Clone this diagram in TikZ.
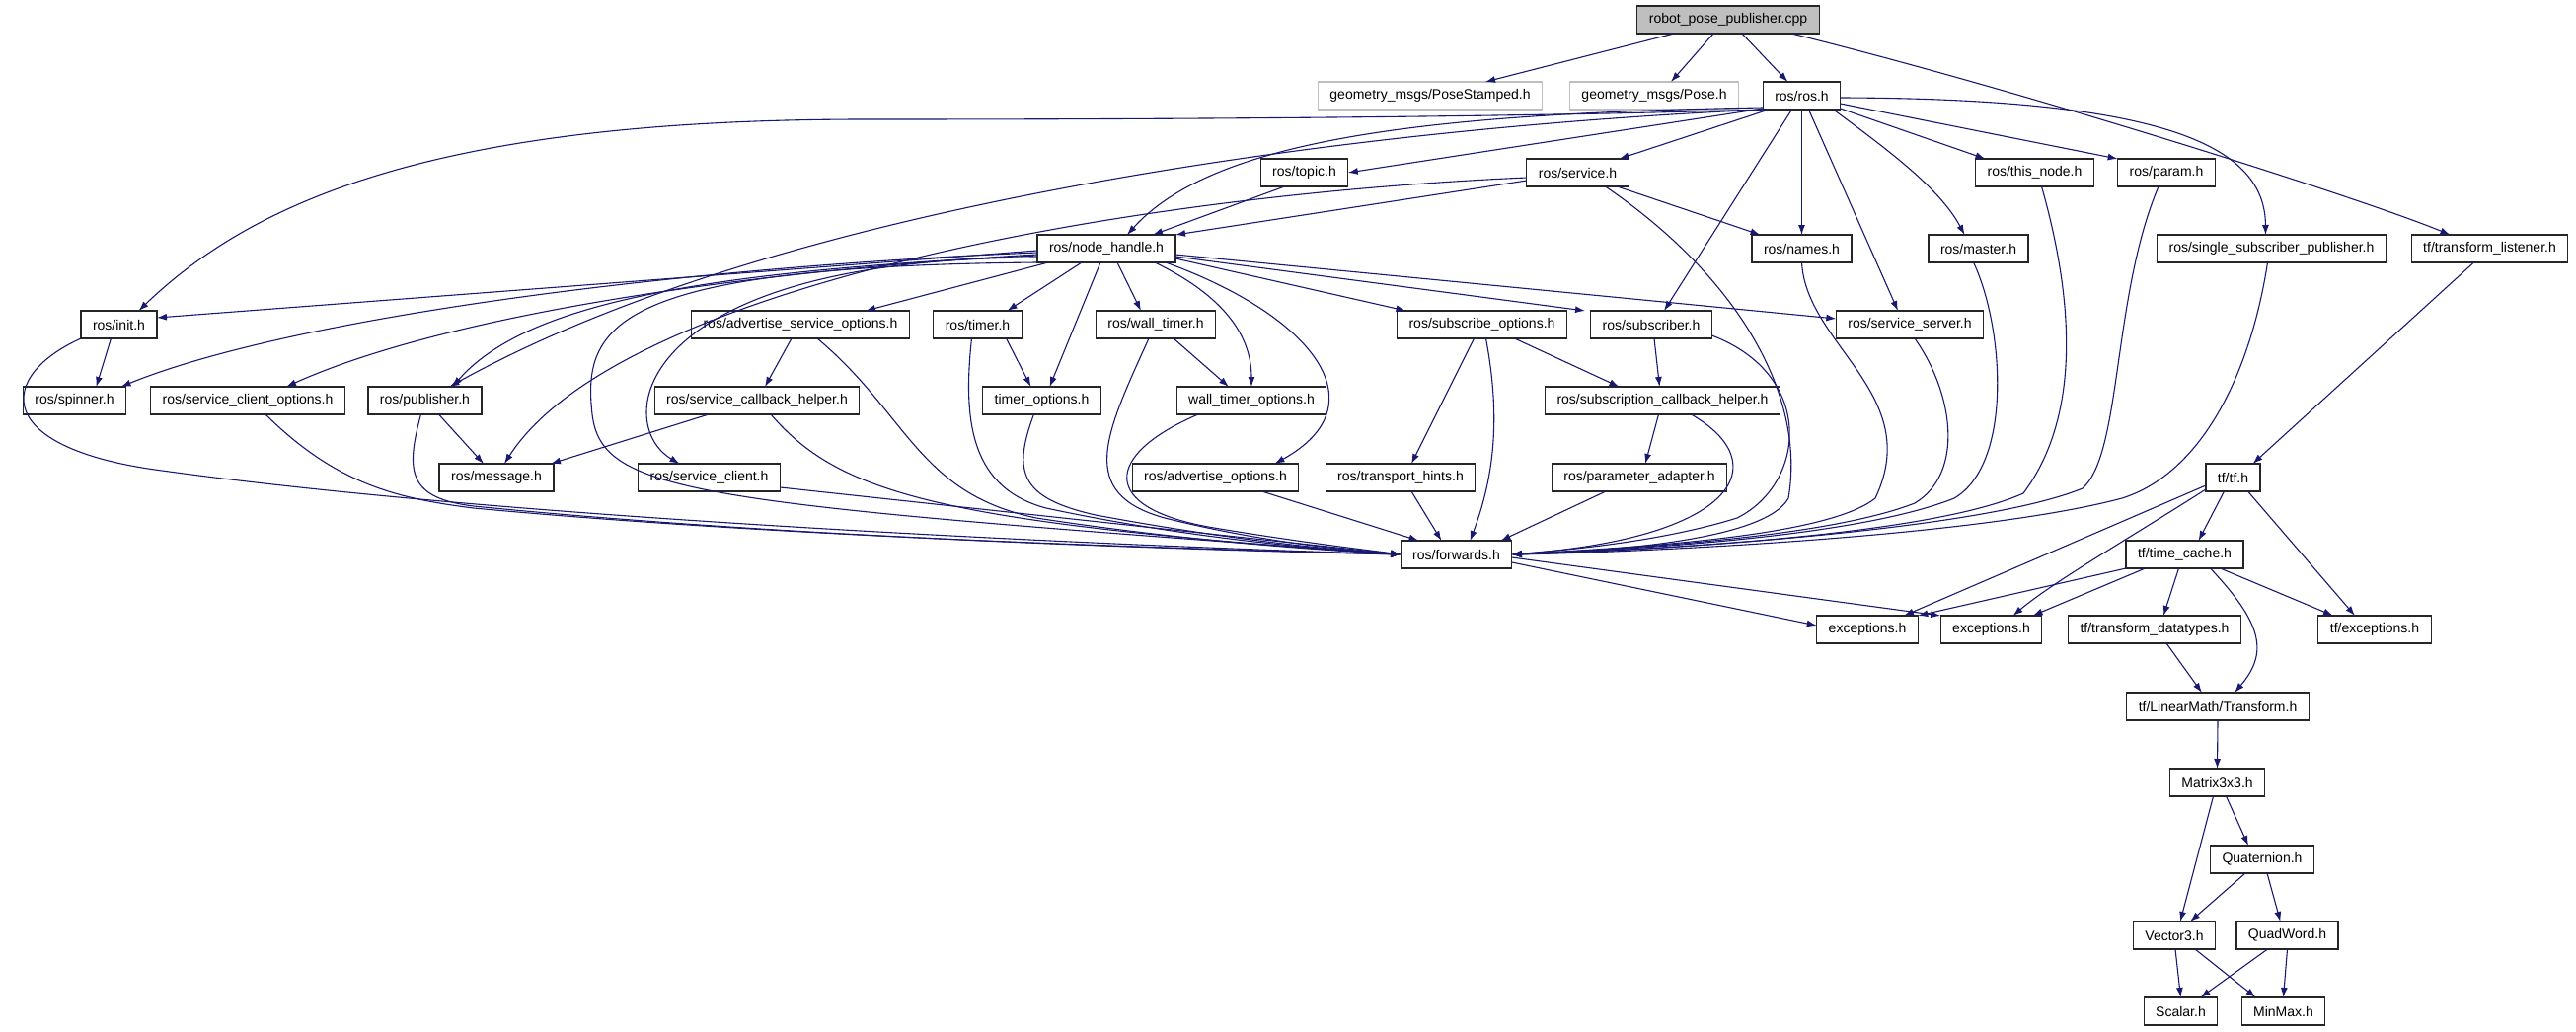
\documentclass[tikz,border=0pt]{standalone}
\usepackage{fontspec}
\setmainfont{Liberation Sans}
\usepackage{tikz}
\usetikzlibrary{arrows.meta}
\definecolor{edgeblue}{HTML}{191970}
\definecolor{rootgray}{HTML}{BFBFBF}

\begin{document}
\begin{tikzpicture}[x=1pt,y=-1pt,
    edge/.style={draw=edgeblue,line width=1.1pt,-{Latex[length=10pt,width=7pt]}},
    file/.style={draw=black!85,line width=1.2pt,rectangle,minimum height=28pt,inner sep=0pt,inner xsep=12pt,outer sep=0pt,font=\fontsize{14}{16}\selectfont},
    root/.style={file,fill=rootgray},
    missing/.style={file,draw=rootgray}]
    \useasboundingbox (0,0) rectangle (2610,1045);
    \node [root] (rpp) at (1751,20) {robot\_pose\_publisher.cpp};
    \node [missing] (posest) at (1449,97) {geometry\_msgs/PoseStamped.h};
    \node [missing] (pose) at (1676,97) {geometry\_msgs/Pose.h};
    \node [file] (ros) at (1825.5,97) {ros/ros.h};
    \node [file] (topic) at (1321.5,175) {ros/topic.h};
    \node [file] (service) at (1598.5,175) {ros/service.h};
    \node [file] (thisnode) at (2061.5,175) {ros/this\_node.h};
    \node [file] (param) at (2195,175) {ros/param.h};
    \node [file] (nh) at (1121,252) {ros/node\_handle.h};
    \node [file] (names) at (1825.5,252) {ros/names.h};
    \node [file] (master) at (2004.5,252) {ros/master.h};
    \node [file] (ssp) at (2301.5,252) {ros/single\_subscriber\_publisher.h};
    \node [file] (listener) at (2522.5,252) {tf/transform\_listener.h};
    \node [file] (init) at (120.5,329) {ros/init.h};
    \node [file] (advsrvopt) at (811,329) {ros/advertise\_service\_options.h};
    \node [file] (timer) at (990.5,329) {ros/timer.h};
    \node [file] (walltimer) at (1171,329) {ros/wall\_timer.h};
    \node [file] (subopt) at (1501.5,329) {ros/subscribe\_options.h};
    \node [file] (subscriber) at (1673,329) {ros/subscriber.h};
    \node [file] (srvsrv) at (1935,329) {ros/service\_server.h};
    \node [file] (spinner) at (75.5,406) {ros/spinner.h};
    \node [file] (srvcliopt) at (251,406) {ros/service\_client\_options.h};
    \node [file] (pub) at (430.5,406) {ros/publisher.h};
    \node [file] (srvcb) at (767,406) {ros/service\_callback\_helper.h};
    \node [file] (timeropt) at (1055.5,406) {timer\_options.h};
    \node [file] (walltimeropt) at (1268,406) {wall\_timer\_options.h};
    \node [file] (subcb) at (1684.5,406) {ros/subscription\_callback\_helper.h};
    \node [file] (message) at (503,484) {ros/message.h};
    \node [file] (srvclient) at (718.5,484) {ros/service\_client.h};
    \node [file] (advopt) at (1231.5,484) {ros/advertise\_options.h};
    \node [file] (hints) at (1419,484) {ros/transport\_hints.h};
    \node [file] (padapter) at (1661,484) {ros/parameter\_adapter.h};
    \node [file] (tf) at (2262.5,484) {tf/tf.h};
    \node [file] (forwards) at (1475.5,562) {ros/forwards.h};
    \node [file] (tcache) at (2213.5,562) {tf/time\_cache.h};
    \node [file] (excA) at (1892,638) {exceptions.h};
    \node [file] (excB) at (2017.5,638) {exceptions.h};
    \node [file] (dtypes) at (2183,638) {tf/transform\_datatypes.h};
    \node [file] (tfexc) at (2406,638) {tf/exceptions.h};
    \node [file] (transform) at (2247,716) {tf/LinearMath/Transform.h};
    \node [file] (matrix) at (2246.5,793) {Matrix3x3.h};
    \node [file] (quat) at (2292,871) {Quaternion.h};
    \node [file] (vector) at (2203,948) {Vector3.h};
    \node [file] (quadword) at (2317.5,948) {QuadWord.h};
    \node [file] (scalar) at (2209.5,1025) {Scalar.h};
    \node [file] (minmax) at (2313.5,1025) {MinMax.h};

    \draw[edge] ([xshift=-55pt]rpp.south) -- ([xshift=56pt]posest.north);
    \draw[edge] ([xshift=-15pt]rpp.south) -- ([xshift=17pt]pose.north);
    \draw[edge] ([xshift=14pt]rpp.south) -- ([xshift=-14pt]ros.north);
    \draw[edge] ([xshift=64pt]rpp.south) .. controls (2050,92) and (2390,200) .. ([xshift=-40pt]listener.north);

    \draw[edge] (ros.south west) .. controls (1500,120) and (1100,121) .. (870,121) .. controls (450,122) and (260,200) .. ([xshift=20pt]init.north);
    \draw[edge] ([yshift=2pt]ros.south west) .. controls (1450,115) and (1230,140) .. ([xshift=21pt]nh.north);
    \draw[edge] ([yshift=1pt]ros.south west) -- (topic.east);
    \draw[edge] ([xshift=6pt]ros.south west) -- ([xshift=42pt]service.north);
    \draw[edge] ([xshift=2pt]ros.south west) .. controls (1400,128) and (800,200) .. ([xshift=25pt]pub.north);
    \draw[edge] ([xshift=-10pt]ros.south) -- ([xshift=13pt]subscriber.north);
    \draw[edge] (ros.south) -- (names.north);
    \draw[edge] ([xshift=7pt]ros.south) -- ([xshift=-12pt]srvsrv.north);
    \draw[edge] ([xshift=32pt]ros.south) .. controls (1910,150) and (1965,190) .. ([xshift=-14pt]master.north);
    \draw[edge] ([yshift=1pt]ros.south east) -- ([xshift=-50pt]thisnode.north);
    \draw[edge] ([yshift=-8pt]ros.east) -- (param.north west);
    \draw[edge] ([yshift=-2pt]ros.east) .. controls (2200,100) and (2295,150) .. ([xshift=-6pt]ssp.north);

    \draw[edge] ([xshift=-20pt]topic.south) -- ([xshift=47pt]nh.north);
    \draw[edge] ([yshift=-8pt]service.west) -- (nh.north east);
    \draw[edge] ([yshift=-5pt]service.west) .. controls (1100,200) and (620,300) .. ([xshift=8pt]message.north);
    \draw[edge] ([xshift=40pt]service.south) -- ([xshift=-42pt]names.north);
    \draw[edge] ([xshift=28pt]service.south) .. controls (1760,280) and (1830,400) .. (1812,505) .. controls (1790,545) and (1650,558) .. (forwards.east);

    \draw[edge] ([yshift=-2pt]nh.west) -- ([yshift=7pt]init.east);
    \draw[edge] ([yshift=-4pt]nh.west) .. controls (700,270) and (300,320) .. ([xshift=47pt]spinner.north);
    \draw[edge] ([yshift=-6pt]nh.west) .. controls (750,275) and (450,320) .. ([xshift=39pt]srvcliopt.north);
    \draw[edge] ([yshift=-7pt]nh.west) .. controls (700,275) and (530,310) .. ([xshift=28pt]pub.north);
    \draw[edge] ([yshift=-9pt]nh.west) .. controls (640,262) and (620,430) .. ([xshift=-30pt]srvclient.north);
    \draw[edge] (nh.south west) .. controls (620,270) and (590,330) .. (600,420) .. controls (610,500) and (700,510) .. (forwards.west);
    \draw[edge] ([xshift=-59pt]nh.south) -- ([xshift=66pt]advsrvopt.north);
    \draw[edge] ([xshift=-25pt]nh.south) -- ([xshift=30pt]timer.north);
    \draw[edge] ([xshift=-6pt]nh.south) -- ([xshift=8pt]timeropt.north);
    \draw[edge] ([xshift=11pt]nh.south) -- ([xshift=-15pt]walltimer.north);
    \draw[edge] ([xshift=49pt]nh.south) .. controls (1240,300) and (1268,340) .. (walltimeropt.north);
    \draw[edge] ([xshift=60pt]nh.south) .. controls (1330,320) and (1400,410) .. ([xshift=60pt]advopt.north);
    \draw[edge] ([yshift=-10pt]nh.east) -- ([xshift=-77pt]subopt.north);
    \draw[edge] ([yshift=-8pt]nh.east) -- ([xshift=-67pt]subscriber.north);
    \draw[edge] ([yshift=-6pt]nh.east) -- ([yshift=6pt]srvsrv.west);

    \draw[edge] ([xshift=29pt]subcb.south) .. controls (1800,470) and (1760,545) .. (forwards.east);
    \draw[edge] ([yshift=3pt]subscriber.south east) .. controls (1840,380) and (1830,490) .. (1760,525) .. controls (1680,550) and (1580,558) .. (forwards.east);
    \draw[edge] (names.south) .. controls (1830,350) and (1950,400) .. (1900,505) .. controls (1850,545) and (1650,555) .. (forwards.east);
    \draw[edge] ([xshift=5pt]srvsrv.south) .. controls (1980,400) and (1990,480) .. (1940,510) .. controls (1850,545) and (1650,556) .. (forwards.east);
    \draw[edge] ([xshift=-5pt]master.south) .. controls (2030,330) and (2040,470) .. (1980,505) .. controls (1880,545) and (1650,557) .. (forwards.east);
    \draw[edge] ([xshift=7pt]thisnode.south) .. controls (2100,300) and (2110,420) .. (2050,500) .. controls (1950,545) and (1650,558) .. (forwards.east);
    \draw[edge] ([xshift=-8pt]param.south) .. controls (2140,300) and (2150,460) .. (2110,495) .. controls (2000,540) and (1650,559) .. (forwards.east);
    \draw[edge] ([xshift=-4pt]ssp.south) .. controls (2280,380) and (2230,480) .. (2150,505) .. controls (2000,545) and (1650,560) .. (forwards.east);

    \draw[edge] ([xshift=47pt]advopt.south) -- ([xshift=-38pt]forwards.north);
    \draw[edge] ([xshift=11pt]hints.south) -- ([xshift=-15pt]forwards.north);
    \draw[edge] ([xshift=-8pt]subopt.south) -- ([xshift=11pt]hints.north);
    \draw[edge] ([xshift=4pt]subopt.south) .. controls (1520,420) and (1515,480) .. ([xshift=14pt]forwards.north);
    \draw[edge] ([xshift=33pt]subopt.south) -- ([xshift=-44pt]subcb.north);
    \draw[edge] ([xshift=3pt]subscriber.south) -- ([xshift=-3pt]subcb.north);
    \draw[edge] ([xshift=-4pt]subcb.south) -- ([xshift=6pt]padapter.north);
    \draw[edge] ([xshift=-34pt]padapter.south) -- ([xshift=45pt]forwards.north);

    \draw[edge] ([xshift=-8pt]init.south) -- ([xshift=22pt]spinner.north);
    \draw[edge] (init.south west) .. controls (0,380) and (-10,450) .. (150,475) .. controls (500,525) and (1100,552) .. (forwards.west);
    \draw[edge] ([xshift=18pt]srvcliopt.south) .. controls (340,490) and (400,505) .. (480,515) .. controls (800,545) and (1200,556) .. (forwards.west);
    \draw[edge] ([xshift=14pt]pub.south) -- ([xshift=-13pt]message.north);
    \draw[edge] ([xshift=-4pt]pub.south) .. controls (410,480) and (415,505) .. (480,513) .. controls (800,545) and (1200,557) .. (forwards.west);
    \draw[edge] ([xshift=-49pt]srvcb.south) -- ([xshift=55pt]message.north);
    \draw[edge] ([xshift=14pt]srvcb.south) .. controls (850,500) and (950,530) .. (forwards.west);
    \draw[edge] ([xshift=-9pt]advsrvopt.south) -- ([xshift=8pt]srvcb.north);
    \draw[edge] ([xshift=17pt]advsrvopt.south) .. controls (920,420) and (930,500) .. (1050,525) .. controls (1200,548) and (1330,557) .. (forwards.west);
    \draw[edge] ([yshift=-10pt]srvclient.east) -- (forwards.west);
    \draw[edge] ([xshift=29pt]timer.south) -- ([xshift=-11pt]timeropt.north);
    \draw[edge] ([xshift=-6pt]timer.south) .. controls (975,430) and (985,495) .. (1060,515) .. controls (1200,545) and (1330,556) .. (forwards.west);
    \draw[edge] ([xshift=-8pt]timeropt.south) .. controls (1025,480) and (1035,505) .. (1110,522) .. controls (1250,548) and (1350,557) .. (forwards.west);
    \draw[edge] ([xshift=18pt]walltimer.south) -- ([xshift=-23pt]walltimeropt.north);
    \draw[edge] ([xshift=-7pt]walltimer.south) .. controls (1120,440) and (1090,500) .. (1180,525) .. controls (1280,550) and (1370,558) .. (forwards.west);
    \draw[edge] ([xshift=-54pt]walltimeropt.south) .. controls (1120,460) and (1110,515) .. (1230,535) .. controls (1320,550) and (1390,558) .. (forwards.west);

    \draw[edge] ([xshift=-16pt]listener.south) -- ([xshift=20pt]tf.north);
    \draw[edge] ([yshift=-8pt]tf.west) -- ([xshift=37pt]excA.north);
    \draw[edge] ([yshift=-12pt]tf.west) .. controls (2150,550) and (2080,590) .. ([xshift=22pt]excB.north);
    \draw[edge] ([xshift=-9pt]tf.south) -- ([xshift=14pt]tcache.north);
    \draw[edge] ([xshift=15pt]tf.south) -- ([xshift=-20pt]tfexc.north);
    \draw[edge] ([yshift=-8pt]forwards.east) -- ([yshift=4pt]excA.west);
    \draw[edge] ([yshift=-3pt]forwards.east) -- (excB.north west);
    \draw[edge] (tcache.south west) -- (excA.north east);
    \draw[edge] ([xshift=-40pt]tcache.south) -- ([xshift=42pt]excB.north);
    \draw[edge] ([xshift=-6pt]tcache.south) -- ([xshift=9pt]dtypes.north);
    \draw[edge] ([xshift=26pt]tcache.south) .. controls (2290,630) and (2300,660) .. ([xshift=17pt]transform.north);
    \draw[edge] ([xshift=36pt]tcache.south) -- ([xshift=-42pt]tfexc.north);
    \draw[edge] ([xshift=12pt]dtypes.south) -- ([xshift=-16pt]transform.north);
    \draw[edge] (transform.south) -- (matrix.north);
    \draw[edge] ([xshift=-4pt]matrix.south) -- ([xshift=6pt]vector.north);
    \draw[edge] ([xshift=9pt]matrix.south) -- ([xshift=-14pt]quat.north);
    \draw[edge] ([xshift=-17pt]quat.south) -- ([xshift=16pt]vector.north);
    \draw[edge] ([xshift=5pt]quat.south) -- ([xshift=-7pt]quadword.north);
    \draw[edge] ([xshift=1pt]vector.south) -- (scalar.north);
    \draw[edge] ([xshift=21pt]vector.south) -- ([xshift=-28pt]minmax.north);
    \draw[edge] ([xshift=-20pt]quadword.south) -- ([xshift=20pt]scalar.north);
    \draw[edge] (quadword.south) -- (minmax.north);
\end{tikzpicture}
\end{document}
